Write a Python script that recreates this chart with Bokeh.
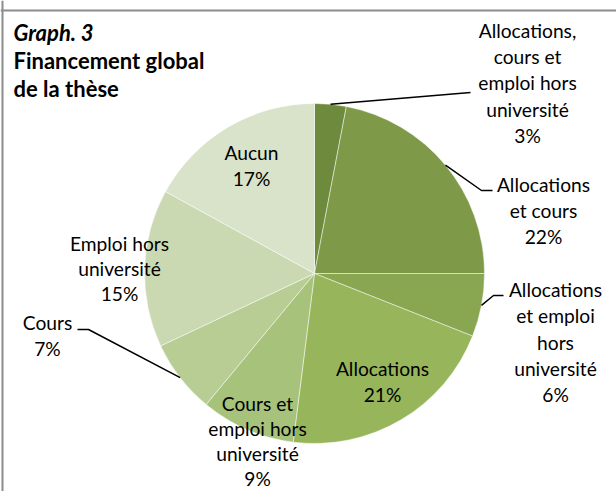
import numpy as np
from bokeh.plotting import figure
from bokeh.models import ColumnDataSource, Range1d, Span
from bokeh.core.properties import value
from bokeh.embed import file_html
from bokeh.resources import INLINE

# ---- data ----
categories = [
    "Allocations,\ncours et\nemploi hors\nuniversité",
    "Allocations\net cours",
    "Allocations\net emploi\nhors\nuniversité",
    "Allocations",
    "Cours et\nemploi hors\nuniversité",
    "Cours",
    "Emploi hors\nuniversité",
    "Aucun",
]
shares = [3, 22, 6, 21, 9, 7, 15, 17]
colors = ["#6e8a3c", "#7e9a48", "#89a651", "#97b55b", "#a7c27b", "#b8cd94", "#cad9b1", "#d9e3c9"]
title_lines = ["Graph. 3", "Financement global", "de la thèse"]

# ---- layout helpers (page pixel -> data) ----
W, H = 616, 491
def X(px):
    return px
def Y(py):
    return H - py

cx, cy, R = X(314), Y(273), 170

p = figure(width=W, height=H, x_range=Range1d(0, W), y_range=Range1d(0, H),
           output_backend="svg", toolbar_location=None,
           x_axis_type=None, y_axis_type=None, min_border=0)
p.xgrid.grid_line_color = None
p.ygrid.grid_line_color = None
p.outline_line_color = None
p.background_fill_color = "white"
p.border_fill_color = "white"

# chart border (top & left)
p.add_layout(Span(location=Y(10), dimension="width", line_color="#8c8c8c", line_width=2))
p.add_layout(Span(location=X(2), dimension="height", line_color="#8c8c8c", line_width=2))

vals = np.array(shares, dtype=float)
frac = vals / vals.sum()
cum = np.concatenate([[0], np.cumsum(frac)])
start = np.pi / 2 - cum[:-1] * 2 * np.pi
end = np.pi / 2 - cum[1:] * 2 * np.pi
mid = (start + end) / 2

src = ColumnDataSource(dict(start=start, end=end, color=colors))
p.wedge(x=cx, y=cy, radius=R, start_angle="start", end_angle="end", direction="clock",
        fill_color="color", line_color="white", line_width=0.8, line_alpha=0.6, source=src)

# label anchors: page coords of first line center, line step
anchors = [(527, 30, 26.2), (543, 184, 26.2), (555, 289, 26.3), (382, 368, 26.2),
           (257, 403, 25.0), (47, 322, 26.2), (119, 243, 25.2), (251, 152, 26.2)]

lx, ly, lt = [], [], []
for cat, v, (ax, ay, step) in zip(categories, shares, anchors):
    lines = cat.split("\n") + [f"{v}%"]
    for k, s in enumerate(lines):
        lx.append(X(ax)); ly.append(Y(ay + k * step)); lt.append(s)
p.text(x=lx, y=ly, text=lt, text_font=value("Lato"), text_font_size="19.2px",
       text_align="center", text_baseline="middle", text_color="#000000")

# leader lines
leader_ends = {0: [(470, 92)], 1: [(481, 190), (492, 190)], 2: [(493, 295), (503, 295)],
               5: [(88, 329), (77, 329)]}
for i, pts in leader_ends.items():
    xs = [cx + R * np.cos(mid[i])] + [X(a) for a, b in pts]
    ys = [cy + R * np.sin(mid[i])] + [Y(b) for a, b in pts]
    p.line(xs, ys, line_color="black", line_width=1.5)

# title
tys = [32, 60, 88]
p.text(x=[X(13)], y=[Y(tys[0])], text=[title_lines[0]], text_font=value("Lato"),
       text_font_size="22px", text_font_style="bold italic", text_baseline="middle")
p.text(x=[X(13)] * 2, y=[Y(tys[1]), Y(tys[2])], text=title_lines[1:], text_font=value("Lato"),
       text_font_size="22px", text_font_style="bold", text_baseline="middle")

open("out.html", "w").write(file_html(p, INLINE))
